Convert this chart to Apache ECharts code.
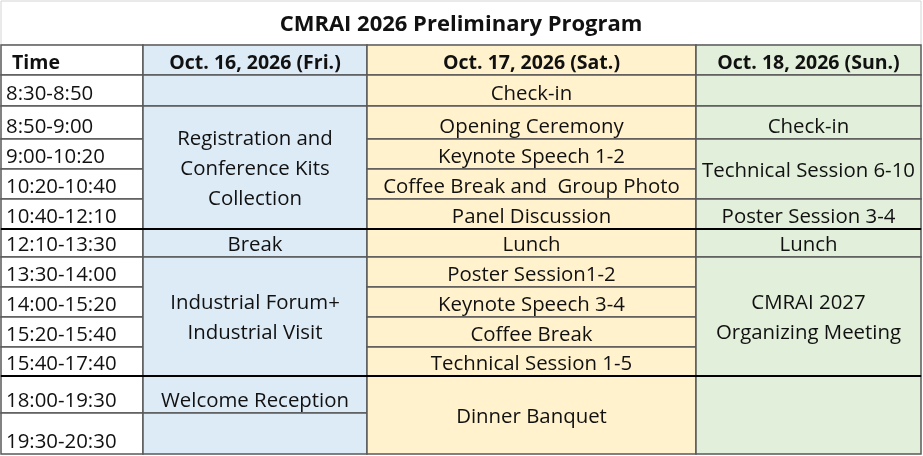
<!DOCTYPE html>
<html>
<head>
<meta charset="utf-8">
<script src="https://cdn.jsdelivr.net/npm/echarts@6/dist/echarts.min.js"></script>
<style>
html,body{margin:0;padding:0;background:#fff;}
#main{width:923px;height:456px;}
</style>
</head>
<body>
<div id="main"></div>
<script>
// 表格内容
var title = 'CMRAI 2026 Preliminary Program';
var timeHeader = 'Time';
var days = ['Oct. 16, 2026 (Fri.)', 'Oct. 17, 2026 (Sat.)', 'Oct. 18, 2026 (Sun.)'];
var timeSlots = ['8:30-8:50', '8:50-9:00', '9:00-10:20', '10:20-10:40', '10:40-12:10', '12:10-13:30',
	'13:30-14:00', '14:00-15:20', '15:20-15:40', '15:40-17:40', '18:00-19:30', '19:30-20:30'];
// [起始行, 跨行数, 内容]
var friEvents = [
	[0, 1, ''],
	[1, 4, 'Registration and\nConference Kits\nCollection'],
	[5, 1, 'Break'],
	[6, 4, 'Industrial Forum+\nIndustrial Visit'],
	[10, 1, 'Welcome Reception'],
	[11, 1, '']
];
var satEvents = [
	[0, 1, 'Check-in'],
	[1, 1, 'Opening Ceremony'],
	[2, 1, 'Keynote Speech 1-2'],
	[3, 1, 'Coffee Break and  Group Photo'],
	[4, 1, 'Panel Discussion'],
	[5, 1, 'Lunch'],
	[6, 1, 'Poster Session1-2'],
	[7, 1, 'Keynote Speech 3-4'],
	[8, 1, 'Coffee Break'],
	[9, 1, 'Technical Session 1-5'],
	[10, 2, 'Dinner Banquet']
];
var sunEvents = [
	[0, 1, ''],
	[1, 1, 'Check-in'],
	[2, 2, 'Technical Session 6-10'],
	[4, 1, 'Poster Session 3-4'],
	[5, 1, 'Lunch'],
	[6, 4, 'CMRAI 2027\nOrganizing Meeting'],
	[10, 2, '']
];

// 布局（列宽、行高）
var colEdges = [1, 143, 367, 696, 921];
var titleTop = 1;
var headerTop = 45;
var rowEdges = [75, 106, 139, 169, 199, 229, 257, 287, 317, 347, 376, 413, 454];
var dayColors = ['#DDEBF7', '#FFF2CC', '#E2EFDA'];
var sectionBreaks = [5, 10];
var fontFamily = '"Open Sans", sans-serif';

// 把所有单元格整理成 [列, 上边, 下边, 文字, 类型]
var cells = [];
cells.push([0, headerTop, rowEdges[0], timeHeader, 'timeHead']);
for (var d = 0; d < days.length; d++) {
	cells.push([d + 1, headerTop, rowEdges[0], days[d], 'head']);
}
for (var i = 0; i < timeSlots.length; i++) {
	cells.push([0, rowEdges[i], rowEdges[i + 1], timeSlots[i], 'time']);
}
var allEvents = [friEvents, satEvents, sunEvents];
for (var d = 0; d < allEvents.length; d++) {
	var ev = allEvents[d];
	for (var j = 0; j < ev.length; j++) {
		var s = ev[j][0], n = ev[j][1];
		cells.push([d + 1, rowEdges[s], rowEdges[s + n], ev[j][2], n > 1 ? 'merged' : 'single']);
	}
}

var myChart = echarts.init(document.getElementById('main'), null, {renderer: 'canvas'});

var renderCell = function(params, api) {
	var c = api.value(0);
	var p0 = api.coord([colEdges[c], api.value(1)]);
	var p1 = api.coord([colEdges[c + 1], api.value(2)]);
	var type = cells[params.dataIndex][4];
	var text = cells[params.dataIndex][3];
	var fill = c === 0 ? '#ffffff' : dayColors[c - 1];
	var bold = (type === 'head' || type === 'timeHead');
	var tx, ty, align;
	if (type === 'time' || type === 'timeHead') {
		tx = p0[0] + (type === 'timeHead' ? 11 : 5);
		align = 'left';
	} else {
		tx = (p0[0] + p1[0]) / 2;
		align = 'center';
	}
	if (type === 'merged') {
		ty = (p0[1] + p1[1]) / 2 + 2;
	} else {
		ty = p1[1] - 12;
	}
	return {
		type: 'group',
		children: [{
			type: 'rect',
			shape: {x: p0[0], y: p0[1], width: p1[0] - p0[0], height: p1[1] - p0[1]},
			style: {fill: fill, stroke: '#5a5a5a', lineWidth: 1.5}
		}, {
			type: 'text',
			x: tx,
			y: ty,
			style: {
				text: text,
				fill: '#111111',
				font: (bold ? 'bold 19.5px ' : '20.4px ') + fontFamily,
				lineHeight: 30,
				align: align,
				verticalAlign: 'middle'
			}
		}]
	};
};

var renderBreak = function(params, api) {
	var y = rowEdges[api.value(0)];
	var a = api.coord([colEdges[0], y]);
	var b = api.coord([colEdges[colEdges.length - 1], y]);
	return {
		type: 'line',
		shape: {x1: a[0], y1: a[1], x2: b[0], y2: b[1]},
		style: {stroke: '#000000', lineWidth: 2}
	};
};

var renderTitle = function(params, api) {
	var a = api.coord([colEdges[0], titleTop]);
	var b = api.coord([colEdges[colEdges.length - 1], headerTop]);
	return {
		type: 'group',
		children: [{
			type: 'rect',
			shape: {x: a[0], y: a[1], width: b[0] - a[0], height: b[1] - a[1]},
			style: {fill: '#ffffff', stroke: '#d4d4d4', lineWidth: 1}
		}, {
			type: 'text',
			x: (a[0] + b[0]) / 2,
			y: (a[1] + b[1]) / 2 + 2,
			style: {
				text: title,
				fill: '#111111',
				font: 'bold 22px ' + fontFamily,
				align: 'center',
				verticalAlign: 'middle'
			}
		}]
	};
};

var option = {
	animation: false,
	grid: {left: 0, right: 0, top: 0, bottom: 0},
	xAxis: {type: 'value', min: 0, max: 923, show: false},
	yAxis: {type: 'value', min: 0, max: 456, inverse: true, show: false},
	series: [{
		type: 'custom',
		renderItem: renderTitle,
		data: [[0, 0]]
	}, {
		type: 'custom',
		renderItem: renderCell,
		data: cells.map(function(c) { return [c[0], c[1], c[2]]; })
	}, {
		type: 'custom',
		renderItem: renderBreak,
		data: sectionBreaks.map(function(b) { return [b]; })
	}]
};
myChart.setOption(option);
</script>
</body>
</html>
